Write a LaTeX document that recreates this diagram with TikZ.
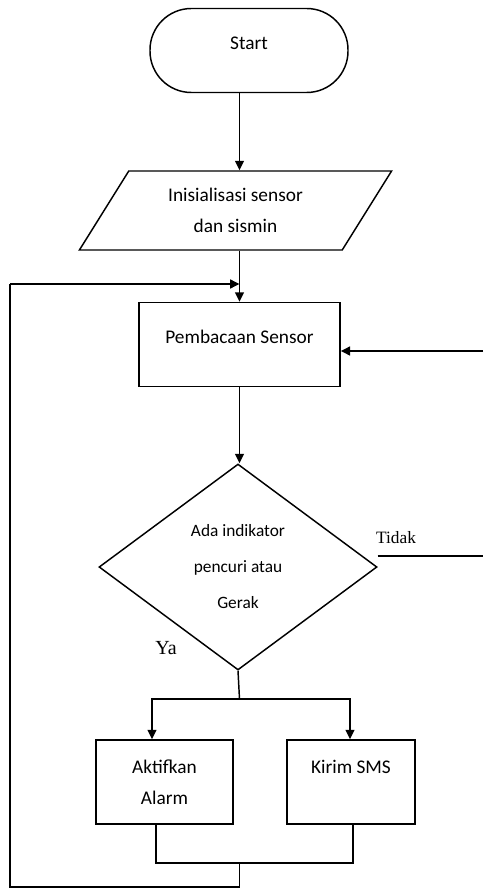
\documentclass[tikz,border=0pt]{standalone}
\usepackage{fontspec}
\setmainfont{Carlito}
\newfontfamily\serifrm{Liberation Serif}
\usetikzlibrary{shapes.geometric,arrows.meta}

\begin{document}
\begin{tikzpicture}[x=0.75pt,y=-0.75pt,line width=1.1pt,
        >={Triangle[length=7pt,width=6.5pt]},
        every node/.style={font=\fontsize{14.5}{23}\selectfont},
        term/.style={draw,rounded corners=31pt,minimum width=148.5pt,minimum height=63pt},
        io/.style={draw,trapezium,trapezium left angle=58,trapezium right angle=122,
                   minimum width=183.75pt,minimum height=59.25pt,align=center},
        proc/.style={draw,rectangle,minimum height=63pt,align=center},
        decision/.style={draw,diamond,aspect=1.35,minimum width=208.5pt,minimum height=154.5pt,
                         align=center,inner sep=0pt,font=\fontsize{13}{27}\selectfont},
        thickarrow/.style={->,line width=2pt},
        serifnote/.style={font=\serifrm\fontsize{#1}{16}\selectfont}]
    \useasboundingbox (0,0) rectangle (483,888);

    \node[term,text depth=11pt] (start) at (249,50.5) {Start};
    \node[io] (init) at (235.5,210.5) {Inisialisasi sensor\\dan sismin};
    \node[proc,minimum width=150.75pt,text depth=12pt] (baca) at (239.5,344.5) {Pembacaan Sensor};
    \node[decision] (cek) at (238,567) {Ada indikator\\pencuri atau\\Gerak};
    \node[proc,minimum width=102.75pt] (alarm) at (164.5,782) {Aktifkan\\Alarm};
    \node[proc,minimum width=96pt] (sms) at (351,782) {Kirim SMS\\\phantom{Alarm}};

    \node[serifnote=13] (tidak) at (396,538) {Tidak};
    \node[serifnote=15] (ya) at (166,648) {Ya};

    \coordinate (kanan) at (483,351);
    \coordinate (tidakout) at (483,556);
    \coordinate (balik) at (10,284);
    \coordinate (cabang) at (239.5,699);
    \coordinate (keAlarm) at (152,699);
    \coordinate (keSms) at (350,699);
    \coordinate (dariAlarm) at (156,824);
    \coordinate (dariSms) at (353,824);
    \coordinate (gabung) at (239.5,863);
    \coordinate (bawah) at (239.5,887);
    \coordinate (kiri) at (10,887);

    \draw[->] (start.south -| baca.north) -- (init.north -| baca.north);
    \draw[->] (init.south -| baca.north) -- (baca.north);
    \draw[thickarrow] (balik) -- (balik -| baca.north);
    \draw[thickarrow] (kanan) -- (kanan -| baca.east);
    \draw[->] (baca.south) -- (baca.south |- cek.north);
    \draw (tidakout -| cek.east) -- (tidakout);
    \draw (cek.south) -- (cabang);
    \draw[->] (cabang) -- (keAlarm) -- (keAlarm |- alarm.north);
    \draw[->] (cabang) -- (keSms) -- (keSms |- sms.north);
    \draw (dariAlarm) |- (gabung) -| (dariSms);
    \draw (gabung) -- (bawah) -- (kiri) -- (balik);
\end{tikzpicture}
\end{document}
